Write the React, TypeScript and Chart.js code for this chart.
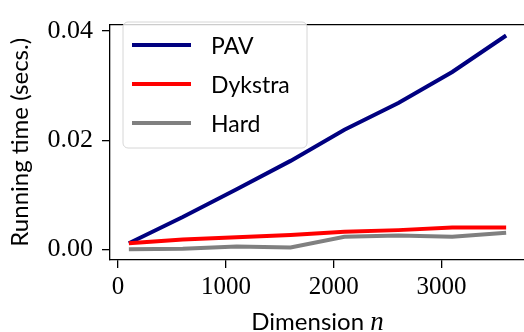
import React, { useEffect, useRef } from "react";
import { Chart, registerables } from "chart.js";

Chart.register(...registerables);

const dims = [100, 600, 1100, 1600, 2100, 2600, 3100, 3600];
const pav = [0.0011, 0.0059, 0.011, 0.0162, 0.0219, 0.0268, 0.0325, 0.0392];
const dykstra = [0.0011, 0.0018, 0.0022, 0.0026, 0.0032, 0.0035, 0.004, 0.004];
const hard = [0.0, 0.0001, 0.0005, 0.0003, 0.0023, 0.0025, 0.0023, 0.003];
const xTicks = [0, 1000, 2000, 3000];
const yTicks = [0, 0.02, 0.04];
const seriesNames = ["PAV", "Dykstra", "Hard"];
const seriesColors = ["#000080", "#ff0000", "#808080"];
const xTitle = "Dimension ";
const xTitleVar = "n";
const yTitle = "Running time (secs.)";

const SANS = "Lato, 'Open Sans', sans-serif";
const SERIF = "'Liberation Serif', 'DejaVu Serif', serif";

const decorPlugin = {
  id: "decor",
  afterDatasetsDraw(chart: any) {
    const { ctx, chartArea: a } = chart;
    ctx.save();
    // frame (top/right)
    ctx.strokeStyle = "#000";
    ctx.lineWidth = 1.3;
    ctx.beginPath();
    ctx.moveTo(a.left, a.top);
    ctx.lineTo(a.right, a.top);
    ctx.lineTo(a.right, a.bottom);
    ctx.stroke();

    // legend
    const bx = 123, by = 22, bw = 184, bh = 126, r = 5;
    ctx.beginPath();
    ctx.moveTo(bx + r, by);
    ctx.arcTo(bx + bw, by, bx + bw, by + bh, r);
    ctx.arcTo(bx + bw, by + bh, bx, by + bh, r);
    ctx.arcTo(bx, by + bh, bx, by, r);
    ctx.arcTo(bx, by, bx + bw, by, r);
    ctx.closePath();
    ctx.fillStyle = "rgba(255,255,255,0.8)";
    ctx.fill();
    ctx.strokeStyle = "#d6d6d6";
    ctx.lineWidth = 1;
    ctx.stroke();
    const rows = [45, 84, 123];
    ctx.font = `23px ${SANS}`;
    ctx.textBaseline = "alphabetic";
    ctx.textAlign = "left";
    seriesNames.forEach((name, i) => {
      ctx.strokeStyle = seriesColors[i];
      ctx.lineWidth = 4;
      ctx.beginPath();
      ctx.moveTo(132, rows[i]);
      ctx.lineTo(191, rows[i]);
      ctx.stroke();
      ctx.fillStyle = "#000";
      ctx.fillText(name, 211, rows[i] + 9);
    });

    // x title
    ctx.fillStyle = "#000";
    const f1 = `24px ${SANS}`;
    const f2 = `italic 27px ${SERIF}`;
    ctx.font = f1;
    const w1 = ctx.measureText(xTitle).width;
    ctx.font = f2;
    const w2 = ctx.measureText(xTitleVar).width;
    const cx = (a.left + a.right) / 2;
    const start = cx - (w1 + w2) / 2;
    ctx.font = f1;
    ctx.fillText(xTitle, start, 330);
    ctx.font = f2;
    ctx.fillText(xTitleVar, start + w1, 330);

    // y title
    ctx.translate(28, (a.top + a.bottom) / 2);
    ctx.rotate(-Math.PI / 2);
    ctx.font = `24px ${SANS}`;
    ctx.textAlign = "center";
    ctx.fillText(yTitle, 0, 0);
    ctx.restore();
  },
};

export default function App() {
  const ref = useRef<HTMLCanvasElement>(null);
  useEffect(() => {
    if (!ref.current) return;
    const chart = new Chart(ref.current, {
      type: "line",
      data: {
        datasets: [
          { label: seriesNames[0], data: dims.map((x, i) => ({ x, y: pav[i] })), order: 3 },
          { label: seriesNames[1], data: dims.map((x, i) => ({ x, y: dykstra[i] })), order: 2 },
          { label: seriesNames[2], data: dims.map((x, i) => ({ x, y: hard[i] })), order: 1 },
        ].map((d, i) => ({
          ...d,
          borderColor: seriesColors[i],
          backgroundColor: seriesColors[i],
          borderWidth: 4,
          pointRadius: 0,
          tension: 0,
          fill: false,
        })),
      },
      options: {
        animation: false,
        responsive: false,
        devicePixelRatio: 1,
        layout: { padding: { top: 10, right: 5, left: 0, bottom: 0 } },
        plugins: { legend: { display: false }, tooltip: { enabled: false }, title: { display: false } },
        scales: {
          x: {
            type: "linear",
            min: -75,
            max: 3775,
            afterBuildTicks: (s: any) => {
              s.ticks = xTicks.map((v) => ({ value: v }));
            },
            afterFit: (s: any) => {
              s.height = 72;
            },
            ticks: {
              callback: (v: any) => String(v),
              font: { family: SERIF, size: 25 },
              color: "#000",
              padding: 4,
              maxRotation: 0,
              autoSkip: false,
            },
            grid: { display: true, drawOnChartArea: false, drawTicks: true, tickLength: 8, color: "#000", lineWidth: 1.3 },
            border: { display: true, color: "#000", width: 1.3 },
          },
          y: {
            type: "linear",
            min: -0.00198,
            max: 0.0412,
            afterBuildTicks: (s: any) => {
              s.ticks = yTicks.map((v) => ({ value: v }));
            },
            afterFit: (s: any) => {
              s.width = 110;
            },
            ticks: {
              callback: (v: any) => Number(v).toFixed(2),
              font: { family: SERIF, size: 26 },
              color: "#000",
              padding: 9,
              autoSkip: false,
            },
            grid: { display: true, drawOnChartArea: false, drawTicks: true, tickLength: 8, color: "#000", lineWidth: 1.3 },
            border: { display: true, color: "#000", width: 1.3 },
          },
        },
      },
      plugins: [decorPlugin],
    } as any);
    return () => chart.destroy();
  }, []);
  return (
    <div style={{ position: "fixed", left: 0, top: 0, width: 524, height: 332, overflow: "hidden", background: "#fff" }}>
      <canvas ref={ref} width={530} height={332} style={{ display: "block", width: 530, height: 332 }} />
    </div>
  );
}
